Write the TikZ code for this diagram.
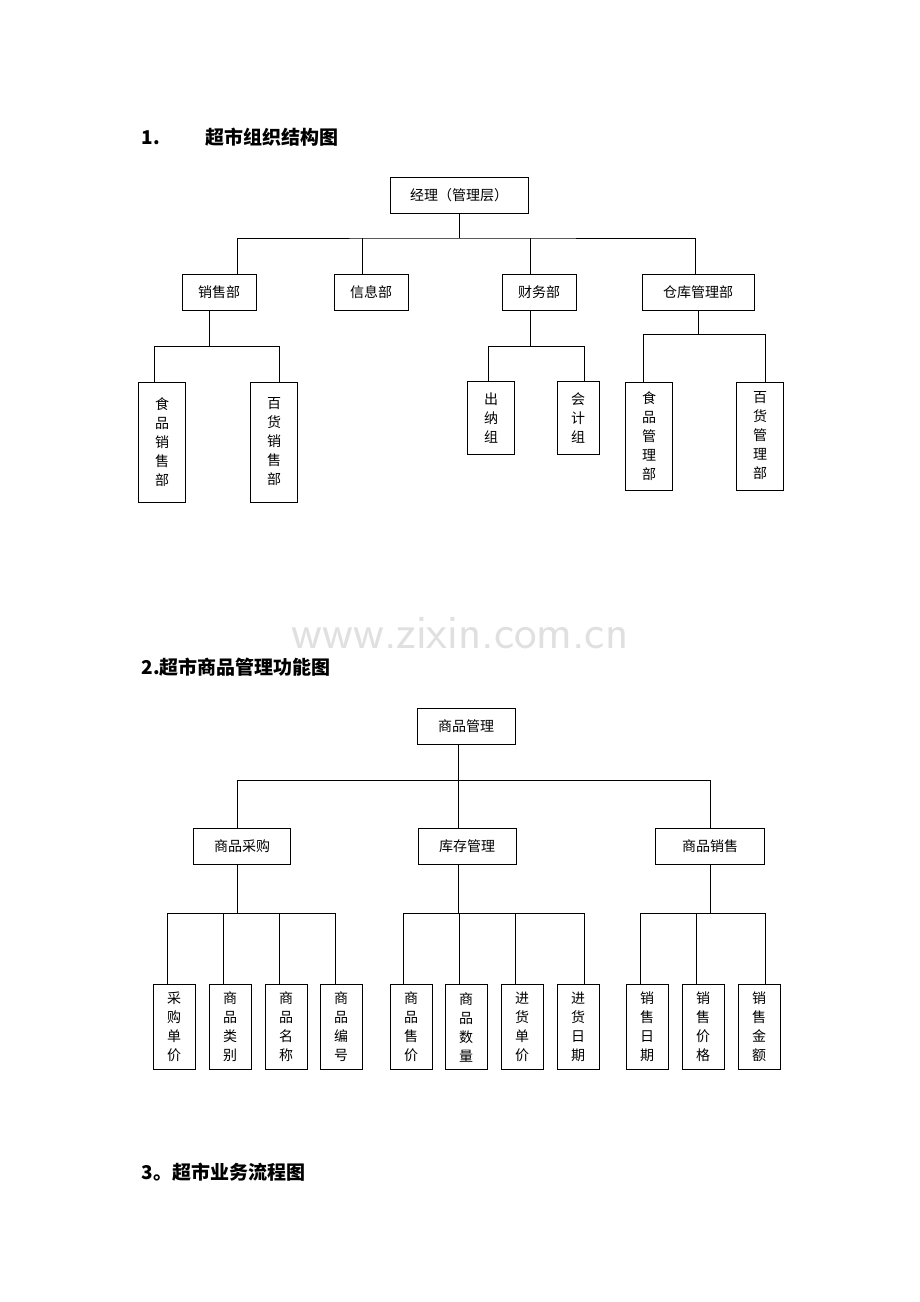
\documentclass[tikz,border=0pt]{standalone}
\usepackage{fontspec}
\setmainfont{Liberation Serif}
\newfontfamily\cjk{Noto Sans CJK SC}
\usetikzlibrary{positioning}
\tikzset{
    box/.style={draw, thick, fill=white, inner sep=2pt, font=\cjk\fontsize{14}{16}\selectfont},
    hbox/.style={box, minimum height=36pt},
    vbox/.style={box, minimum width=42pt, align=center, font=\cjk\fontsize{14}{19}\selectfont},
    title/.style={anchor=west, font=\cjk\bfseries\fontsize{19}{22}\selectfont},
    link/.style={thick}
}
\begin{document}
\begin{tikzpicture}[x=1pt,y=-1pt]
    \useasboundingbox (0,0) rectangle (920,1302);
    \node[title] (t1) at (138,137) {1.\hspace{2.4em}超市组织结构图};
    \node[title] (t2) at (138,667) {2.超市商品管理功能图};
    \node[title] (t3) at (138,1172) {3。超市业务流程图};
    \node[text=black!12, font=\sffamily\fontsize{48}{50}\selectfont] (wm) at (460,633) {www.zixin.com.cn};
    % first chart
    \node[hbox, minimum width=138pt] (mgr) at (459,195) {经理（管理层）};
    \node[hbox, minimum width=74pt] (sale) at (219,292) {销售部};
    \node[hbox, minimum width=74pt] (info) at (371,292) {信息部};
    \node[hbox, minimum width=74pt] (fin) at (539,292) {财务部};
    \node[hbox, minimum width=112pt] (store) at (698,292) {仓库管理部};
    \node[vbox, minimum width=47pt, minimum height=120pt] (s1) at (162,442) {食\\品\\销\\售\\部};
    \node[vbox, minimum width=47pt, minimum height=120pt] (s2) at (274,442) {百\\货\\销\\售\\部};
    \node[vbox, minimum width=47pt, minimum height=73pt] (f1) at (491,418) {出\\纳\\组};
    \node[vbox, minimum width=42pt, minimum height=73pt] (f2) at (578,418) {会\\计\\组};
    \node[vbox, minimum width=47pt, minimum height=108pt] (w1) at (649,436) {食\\品\\管\\理\\部};
    \node[vbox, minimum width=47pt, minimum height=108pt] (w2) at (760,436) {百\\货\\管\\理\\部};
    \coordinate (b1) at (459,238);
    \draw[link] (mgr) -- (b1);
    \draw[link] ([xshift=18pt]sale.north) |- (b1) -| ([xshift=-3pt]store.north);
    \draw[link] ([xshift=-9pt]info.north) -- ++(0,-36);
    \draw[link] ([xshift=-9pt]fin.north) -- ++(0,-36);
    \draw[link] ([xshift=-10pt]sale.south) -- ++(0,36) coordinate (b2);
    \draw[link] ([xshift=-8pt]s1.north) |- (b2) -| ([xshift=5pt]s2.north);
    \draw[link] ([xshift=-9pt]fin.south) -- ++(0,36) coordinate (b3);
    \draw[link] ([xshift=-3pt]f1.north) |- (b3) -| ([xshift=6pt]f2.north);
    \draw[link] (store.south) -- ++(0,24) coordinate (b4);
    \draw[link] ([xshift=-6pt]w1.north) |- (b4) -| ([xshift=5pt]w2.north);
    % second chart
    \node[hbox, minimum width=98pt] (goods) at (466,726) {商品管理};
    \node[hbox, minimum width=97pt] (buy) at (242,846) {商品采购};
    \node[hbox, minimum width=98pt] (stock) at (467,846) {库存管理};
    \node[hbox, minimum width=109pt] (sell) at (710,846) {商品销售};
    \coordinate (c1) at (458,780);
    \draw[link] ([xshift=-8pt]goods.south) -- (c1);
    \draw[link] ([xshift=-5pt]buy.north) |- (c1) -| (sell.north);
    \draw[link] (c1) -- ([xshift=-9pt]stock.north);
    \foreach \n/\x/\t in {p1/174/采\\购\\单\\价, p2/230/商\\品\\类\\别, p3/286/商\\品\\名\\称, p4/341/商\\品\\编\\号,
        k1/411/商\\品\\售\\价, k2/466/商\\品\\数\\量, k3/522/进\\货\\单\\价, k4/578/进\\货\\日\\期,
        m1/647/销\\售\\日\\期, m2/703/销\\售\\价\\格, m3/759/销\\售\\金\\额}
        \node[vbox, minimum height=85pt] (\n) at (\x,1027) {\t};
    \draw[link] ([xshift=-5pt]buy.south) -- ++(0,49) coordinate (c2);
    \draw[link] ([xshift=-7pt]p1.north) |- (c2) -| ([xshift=-6pt]p4.north);
    \draw[link] ([xshift=-7pt]p2.north) -- ([xshift=-7pt]p2.north |- c2);
    \draw[link] ([xshift=-7pt]p3.north) -- ([xshift=-7pt]p3.north |- c2);
    \draw[link] ([xshift=-9pt]stock.south) -- ++(0,49) coordinate (c3);
    \draw[link] ([xshift=-8pt]k1.north) |- (c3) -| ([xshift=6pt]k4.north);
    \draw[link] ([xshift=-7pt]k2.north) -- ([xshift=-7pt]k2.north |- c3);
    \draw[link] ([xshift=-7pt]k3.north) -- ([xshift=-7pt]k3.north |- c3);
    \draw[link] (sell.south) -- ++(0,49) coordinate (c4);
    \draw[link] ([xshift=-7pt]m1.north) |- (c4) -| ([xshift=6pt]m3.north);
    \draw[link] ([xshift=-7pt]m2.north) -- ([xshift=-7pt]m2.north |- c4);
\end{tikzpicture}
\end{document}
